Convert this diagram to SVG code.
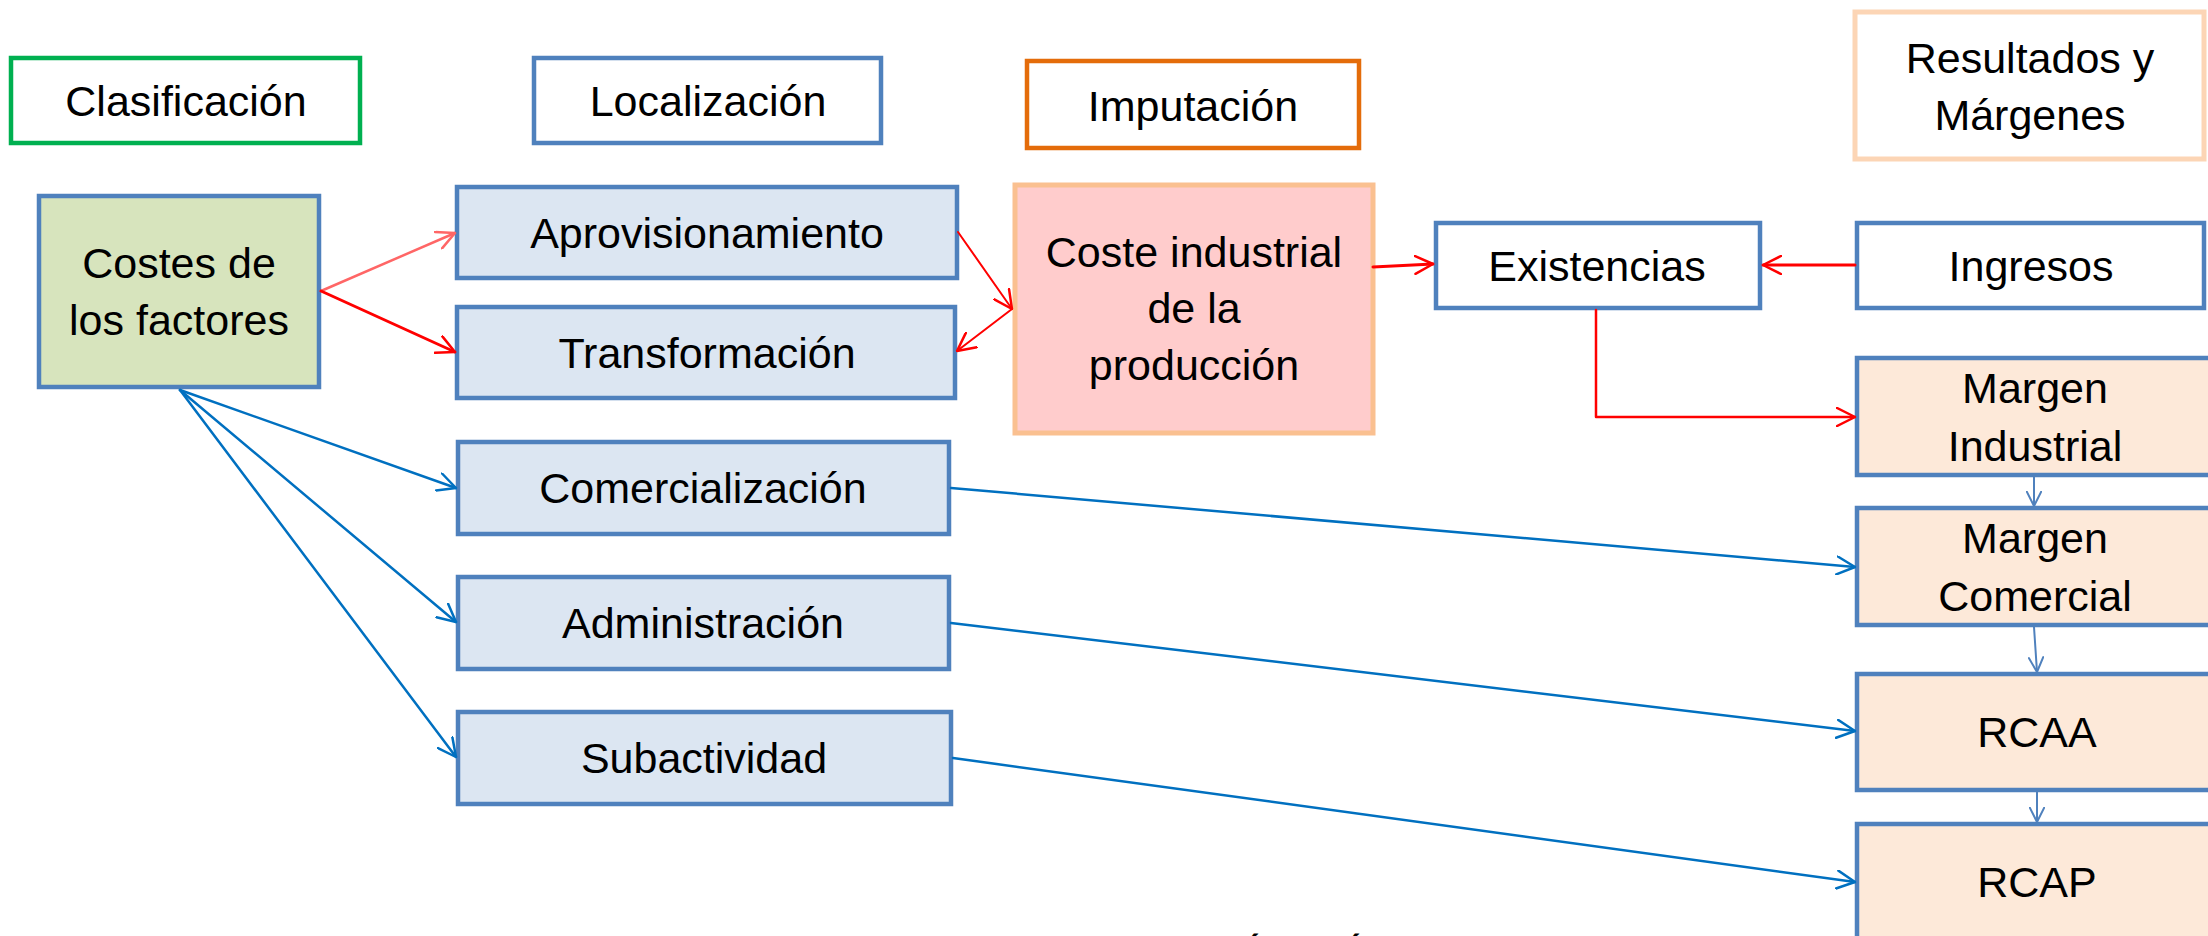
<svg xmlns="http://www.w3.org/2000/svg" width="2208" height="936" viewBox="0 0 2208 936">
<defs>
<style>
text{font-family:"Liberation Sans",Arial,sans-serif;font-size:43px;fill:#000;text-anchor:middle}
.box{stroke:#4F81BD;stroke-width:4.5}
.lb{fill:#DCE6F2}
.wh{fill:#FFFFFF}
.pe{fill:#FDE9D9}
.cn{fill:none;stroke-linecap:round;stroke-linejoin:round}
.red{stroke:#FF0000}
.lred{stroke:#FF6666}
.blue{stroke:#0070C0}
.sblue{stroke:#4F81BD}
</style>
<marker id="mRed" markerUnits="userSpaceOnUse" viewBox="0 0 20 20" refX="19" refY="10" markerWidth="20" markerHeight="20" orient="auto"><path d="M1,1 L19,10 L1,19" fill="none" stroke="#FF0000" stroke-width="2.5" stroke-linecap="round" stroke-linejoin="round"/></marker>
<marker id="mLred" markerUnits="userSpaceOnUse" viewBox="0 0 20 20" refX="19" refY="10" markerWidth="20" markerHeight="20" orient="auto"><path d="M1,1 L19,10 L1,19" fill="none" stroke="#FF6666" stroke-width="2.5" stroke-linecap="round" stroke-linejoin="round"/></marker>
<marker id="mBlue" markerUnits="userSpaceOnUse" viewBox="0 0 20 20" refX="19" refY="10" markerWidth="20" markerHeight="20" orient="auto"><path d="M1,1 L19,10 L1,19" fill="none" stroke="#0070C0" stroke-width="2.5" stroke-linecap="round" stroke-linejoin="round"/></marker>
<marker id="mSblue" markerUnits="userSpaceOnUse" viewBox="0 0 20 20" refX="19" refY="10" markerWidth="16" markerHeight="16" orient="auto"><path d="M1,1 L19,10 L1,19" fill="none" stroke="#4F81BD" stroke-width="2.5" stroke-linecap="round" stroke-linejoin="round"/></marker>
</defs>
<rect width="2208" height="936" fill="#FFFFFF"/>

<g id="clasificacion"><rect x="11" y="58" width="349" height="85" fill="#FFFFFF" stroke="#00B050" stroke-width="4.5"/><text x="186" y="116">Clasificación</text></g>
<g id="localizacion"><rect class="box wh" x="534" y="58" width="347" height="85"/><text x="708" y="116">Localización</text></g>
<g id="imputacion"><rect x="1027" y="61" width="332" height="87" fill="#FFFFFF" stroke="#E46C0A" stroke-width="4.5"/><text x="1193" y="121">Imputación</text></g>
<g id="resultados"><rect x="1855" y="12" width="349" height="147" fill="#FFFFFF" stroke="#FCD5B5" stroke-width="5"/><text x="2030" y="73">Resultados y</text><text x="2030" y="130">Márgenes</text></g>

<g id="costes"><rect class="box" x="39" y="196" width="280" height="191" fill="#D7E4BD"/><text x="179" y="278">Costes de</text><text x="179" y="335">los factores</text></g>
<g id="aprovisionamiento"><rect class="box lb" x="457" y="187" width="500" height="91"/><text x="707" y="248">Aprovisionamiento</text></g>
<g id="transformacion"><rect class="box lb" x="457" y="307" width="498" height="91"/><text x="707" y="368">Transformación</text></g>
<g id="comercializacion"><rect class="box lb" x="458" y="442" width="491" height="92"/><text x="703" y="503">Comercialización</text></g>
<g id="administracion"><rect class="box lb" x="458" y="577" width="491" height="92"/><text x="703" y="638">Administración</text></g>
<g id="subactividad"><rect class="box lb" x="458" y="712" width="493" height="92"/><text x="704" y="773">Subactividad</text></g>

<g id="coste-industrial"><rect x="1015" y="185" width="358" height="248" fill="#FFCCCC" stroke="#FAC090" stroke-width="5"/><text x="1194" y="267">Coste industrial</text><text x="1194" y="323">de la</text><text x="1194" y="380">producción</text></g>
<g id="existencias"><rect class="box wh" x="1436" y="223" width="324" height="85"/><text x="1597" y="281">Existencias</text></g>
<g id="ingresos"><rect class="box wh" x="1857" y="223" width="347" height="85"/><text x="2031" y="281">Ingresos</text></g>
<g id="margen-industrial"><rect class="box pe" x="1857" y="358" width="360" height="117"/><text x="2035" y="403">Margen</text><text x="2035" y="461">Industrial</text></g>
<g id="margen-comercial"><rect class="box pe" x="1857" y="508" width="360" height="117"/><text x="2035" y="553">Margen</text><text x="2035" y="611">Comercial</text></g>
<g id="rcaa"><rect class="box pe" x="1857" y="674" width="360" height="116"/><text x="2037" y="747">RCAA</text></g>
<g id="rcap"><rect class="box pe" x="1857" y="824" width="360" height="140"/><text x="2037" y="897">RCAP</text></g>

<g id="connectors">
<line class="cn lred" x1="321" y1="291" x2="455" y2="233" stroke-width="2.5" marker-end="url(#mLred)"/>
<line class="cn red" x1="321" y1="291" x2="455" y2="352" stroke-width="3" marker-end="url(#mRed)"/>
<line class="cn red" x1="958" y1="232" x2="1012" y2="309" stroke-width="2" marker-end="url(#mRed)"/>
<line class="cn red" x1="1012" y1="309" x2="957" y2="351" stroke-width="2" marker-end="url(#mRed)"/>
<line class="cn red" x1="1373" y1="267" x2="1433" y2="264" stroke-width="3" marker-end="url(#mRed)"/>
<line class="cn red" x1="1855" y1="265" x2="1763" y2="265" stroke-width="3" marker-end="url(#mRed)"/>
<polyline class="cn red" points="1596,310 1596,417 1855,417" stroke-width="2.5" marker-end="url(#mRed)"/>
<line class="cn blue" x1="180" y1="390" x2="456" y2="488" stroke-width="2.5" marker-end="url(#mBlue)"/>
<line class="cn blue" x1="180" y1="390" x2="456" y2="622" stroke-width="2.5" marker-end="url(#mBlue)"/>
<line class="cn blue" x1="180" y1="390" x2="456" y2="757" stroke-width="2.5" marker-end="url(#mBlue)"/>
<line class="cn blue" x1="951" y1="488" x2="1855" y2="567" stroke-width="2.5" marker-end="url(#mBlue)"/>
<line class="cn blue" x1="951" y1="623" x2="1855" y2="731" stroke-width="2.5" marker-end="url(#mBlue)"/>
<line class="cn blue" x1="953" y1="758" x2="1855" y2="882" stroke-width="2.5" marker-end="url(#mBlue)"/>
<line class="cn sblue" x1="2034" y1="477" x2="2034" y2="506" stroke-width="2" marker-end="url(#mSblue)"/>
<line class="cn sblue" x1="2034" y1="627" x2="2037" y2="672" stroke-width="2" marker-end="url(#mSblue)"/>
<line class="cn sblue" x1="2037" y1="792" x2="2037" y2="822" stroke-width="2" marker-end="url(#mSblue)"/>
</g>

<text x="1255" y="965">´</text>
<text x="1356" y="965">´</text>
</svg>
